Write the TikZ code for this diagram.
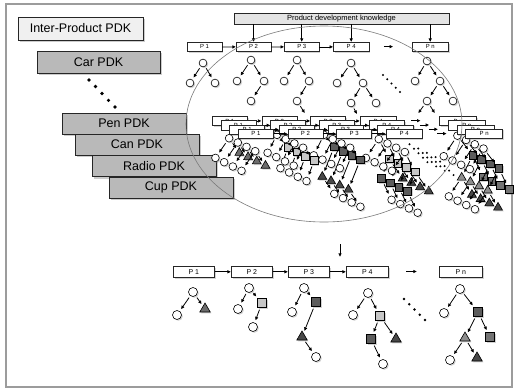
\documentclass[tikz,border=0pt]{standalone}
\usepackage{fontspec}
\setmainfont{Liberation Sans}
\usetikzlibrary{arrows.meta,shadows,shapes.geometric}

\definecolor{pdkgray}{HTML}{B9B9B9}
\definecolor{paleface}{HTML}{F0F0F0}
\definecolor{kbarfill}{HTML}{E4E4E4}
\definecolor{sqlight}{HTML}{C6C6C6}
\definecolor{sqmid}{HTML}{747474}
\definecolor{sqdark}{HTML}{5C5C5C}
\definecolor{tridark}{HTML}{484848}
\definecolor{trimid}{HTML}{6C6C6C}
\definecolor{trigray}{HTML}{8E8E8E}
\definecolor{framegray}{HTML}{9C9C9C}
\definecolor{ringgray}{HTML}{7A7A7A}

\tikzset{
  dshadow/.style={drop shadow={shadow xshift=1.3pt,shadow yshift=-1.3pt,opacity=0.35}},
  bigshadow/.style={drop shadow={shadow xshift=2pt,shadow yshift=-2pt,opacity=0.4}},
  pdk/.style={draw=black!85,line width=0.7pt,fill=pdkgray,minimum width=124pt,minimum height=21pt,inner sep=0pt,font=\fontsize{12.5}{14}\selectfont,bigshadow},
  kbar/.style={draw=black!85,line width=0.6pt,fill=kbarfill,minimum width=215pt,minimum height=11pt,inner sep=0pt,font=\fontsize{7.5}{8}\selectfont,dshadow},
  pbox/.style={draw=black!85,line width=0.6pt,fill=white,anchor=north west,minimum width=41pt,minimum height=11pt,inner sep=0pt,font=\fontsize{7}{8}\selectfont,dshadow},
  circ/.style={circle,draw=black,line width=0.6pt,fill=white,minimum size=9pt,inner sep=0pt,dshadow},
  tcirc/.style={circ,minimum size=7.8pt},
  sqr/.style={rectangle,draw=black,line width=0.6pt,minimum size=9pt,inner sep=0pt,dshadow},
  tri/.style={regular polygon,regular polygon sides=3,draw=black,line width=0.6pt,minimum size=12pt,inner sep=0pt,dshadow},
  tarrow/.style={-{Latex[length=3.6pt,width=3.6pt]},line width=0.8pt,shorten <=2pt,shorten >=2.2pt},
  barrow/.style={-{Latex[length=3.6pt,width=3.6pt]},line width=0.8pt},
}

% a row of process steps P1 ... Pn
\newcommand\prow[1]{%
  \node[pbox] (#1-p1) at (0,0) {P 1};
  \node[pbox] (#1-p2) at (58,0) {P 2};
  \node[pbox] (#1-p3) at (115,0) {P 3};
  \node[pbox,minimum width=42pt] (#1-p4) at (173,0) {P 4};
  \node[pbox,minimum width=43pt] (#1-pn) at (266,0) {P n};
  \draw[barrow] (#1-p1) -- (#1-p2);
  \draw[barrow] (#1-p2) -- (#1-p3);
  \draw[barrow] (#1-p3) -- (#1-p4);
  \coordinate (#1-ga) at (233,5.5);
  \coordinate (#1-gb) at (244,5.5);
  \draw[barrow] (#1-ga) -- (#1-gb);
}

% the knowledge trees below each step
\newcommand\ptrees[1]{%
  \node[circ] (#1-ar) at (20,26) {};
  \node[circ] (#1-al) at (4,49) {};
  \node[tri,fill=trimid] (#1-at) at (32,43) {};
  \draw[tarrow] (#1-ar) -- (#1-al);
  \draw[tarrow] (#1-ar) -- (#1-at);
  %
  \node[circ] (#1-br) at (76,22) {};
  \node[circ] (#1-bl) at (65,43) {};
  \node[sqr,fill=sqlight] (#1-bs) at (89,37) {};
  \node[circ] (#1-bc) at (80,61) {};
  \draw[tarrow] (#1-br) -- (#1-bl);
  \draw[tarrow] (#1-br) -- (#1-bs);
  \draw[tarrow] (#1-bs) -- (#1-bc);
  %
  \node[circ] (#1-cr) at (131,22) {};
  \node[circ] (#1-cl) at (119,46) {};
  \node[sqr,fill=sqdark] (#1-cs) at (143,36) {};
  \node[tri,fill=tridark] (#1-ct) at (129,71) {};
  \node[circ] (#1-cc) at (143,91) {};
  \draw[tarrow] (#1-cr) -- (#1-cl);
  \draw[tarrow] (#1-cr) -- (#1-cs);
  \draw[tarrow] (#1-cs) -- (#1-ct);
  \draw[tarrow] (#1-ct) -- (#1-cc);
  %
  \node[circ] (#1-dr) at (195,27) {};
  \node[circ] (#1-dl) at (180,49) {};
  \node[sqr,fill=sqlight] (#1-ds) at (207,50) {};
  \node[sqr,fill=sqdark] (#1-dq) at (198,73) {};
  \node[tri,fill=tridark] (#1-dt) at (223,73) {};
  \node[circ] (#1-dc) at (210,98) {};
  \draw[tarrow] (#1-dr) -- (#1-dl);
  \draw[tarrow] (#1-dr) -- (#1-ds);
  \draw[tarrow] (#1-ds) -- (#1-dq);
  \draw[tarrow] (#1-ds) -- (#1-dt);
  \draw[tarrow] (#1-dq) -- (#1-dc);
  %
  \foreach \i in {0,...,4} \fill (231+5.25*\i,33+5.25*\i) circle (1.3);
  %
  \node[circ] (#1-nr) at (287,23) {};
  \node[circ] (#1-nl) at (271,47) {};
  \node[sqr,fill=sqdark] (#1-ns) at (305,46) {};
  \node[tri,fill=trigray] (#1-nt) at (292,72) {};
  \node[sqr,fill=sqmid] (#1-nq) at (317,71) {};
  \node[circ] (#1-nc) at (277,94) {};
  \node[tri,fill=tridark] (#1-nu) at (304,92) {};
  \draw[tarrow] (#1-nr) -- (#1-nl);
  \draw[tarrow] (#1-nr) -- (#1-ns);
  \draw[tarrow] (#1-ns) -- (#1-nt);
  \draw[tarrow] (#1-ns) -- (#1-nq);
  \draw[tarrow] (#1-nt) -- (#1-nc);
  \draw[tarrow] (#1-nt) -- (#1-nu);
}

\begin{document}
\begin{tikzpicture}[x=1pt,y=-1pt]
\useasboundingbox (0,0) rectangle (515,389);
\draw[framegray,line width=1.2pt] (6,4) rectangle (512,387);

% product-specific knowledge bases
\node[pdk,fill=paleface,minimum width=125pt,minimum height=23pt] (inter) at (80.5,28.5) {Inter-Product PDK};
\node[pdk,minimum width=123pt,minimum height=22pt] (car) at (98.5,62) {Car PDK};
\foreach \x/\y in {89/80,95.5/86.5,102/93.5,108.5/100.3,115/107} \fill (\x,\y) circle (1.8);
\node[pdk] (pen) at (124,123.5) {Pen PDK};
\node[pdk] (can) at (137,144.5) {Can PDK};
\node[pdk] (radio) at (154,166) {Radio PDK};
\node[pdk] (cup) at (171,187.5) {Cup PDK};

% knowledge bar and first process row
\node[kbar] (kb) at (341.5,18.5) {Product development knowledge};
\begin{scope}[shift={(187,42)},scale=0.845,transform shape]
  \prow{t}
\end{scope}
\foreach \s in {p2,p3,p4,pn} \draw[barrow] (kb.south -| t-\s.north) -- (t-\s.north);

% first row trees
\node[tcirc] (u1r) at (203,63) {};
\node[tcirc] (u1a) at (190,83) {};
\node[tcirc] (u1b) at (215,83) {};
\node[tcirc] (u2r) at (251,60) {};
\node[tcirc] (u2a) at (237,81) {};
\node[tcirc] (u2b) at (264,81) {};
\node[tcirc] (u2c) at (251,101) {};
\node[tcirc] (u3r) at (297,60) {};
\node[tcirc] (u3a) at (284,81) {};
\node[tcirc] (u3b) at (309,81) {};
\node[tcirc] (u3c) at (297,101) {};
\coordinate (u3e) at (306,115);
\node[tcirc] (u4r) at (351,63) {};
\node[tcirc] (u4a) at (337,83) {};
\node[tcirc] (u4b) at (363,83) {};
\node[tcirc] (u4c) at (351,103) {};
\node[tcirc] (u4d) at (376,103) {};
\coordinate (u4e) at (358,116);
\foreach \i in {0,...,4} \fill (383+4.25*\i,75+4.25*\i) circle (1.2);
\node[tcirc] (unr) at (427,61) {};
\node[tcirc] (una) at (415,81) {};
\node[tcirc] (unb) at (440,81) {};
\node[tcirc] (unc) at (427,101) {};
\node[tcirc] (und) at (453,101) {};
\coordinate (une) at (417,115);
\coordinate (unf) at (436,115);
\foreach \a/\b in {u1r/u1a,u1r/u1b,u2r/u2a,u2r/u2b,u2b/u2c,u3r/u3a,u3r/u3b,u3b/u3c,u3c/u3e,
  u4r/u4a,u4r/u4b,u4b/u4c,u4b/u4d,u4c/u4e,unr/una,unr/unb,unb/unc,unb/und,unc/une,unc/unf}
  \draw[tarrow] (\a) -- (\b);

% stacked layers of product knowledge
\foreach \j in {0,1,2,3}{
  \begin{scope}[shift={(212+8.7*\j,116+4.3*\j)},scale=0.855,transform shape]
    \prow{m\j}
    \ptrees{m\j}
  \end{scope}
}

% resulting process
\coordinate (dtop) at (340,244);
\coordinate (dbot) at (340,257);
\draw[barrow] (dtop) -- (dbot);
\begin{scope}[shift={(173,266)}]
  \prow{b}
  \ptrees{b}
\end{scope}

% scope of the shared knowledge
\draw[ringgray,line width=0.6pt] (324,124) ellipse [x radius=138,y radius=98];
\end{tikzpicture}
\end{document}
